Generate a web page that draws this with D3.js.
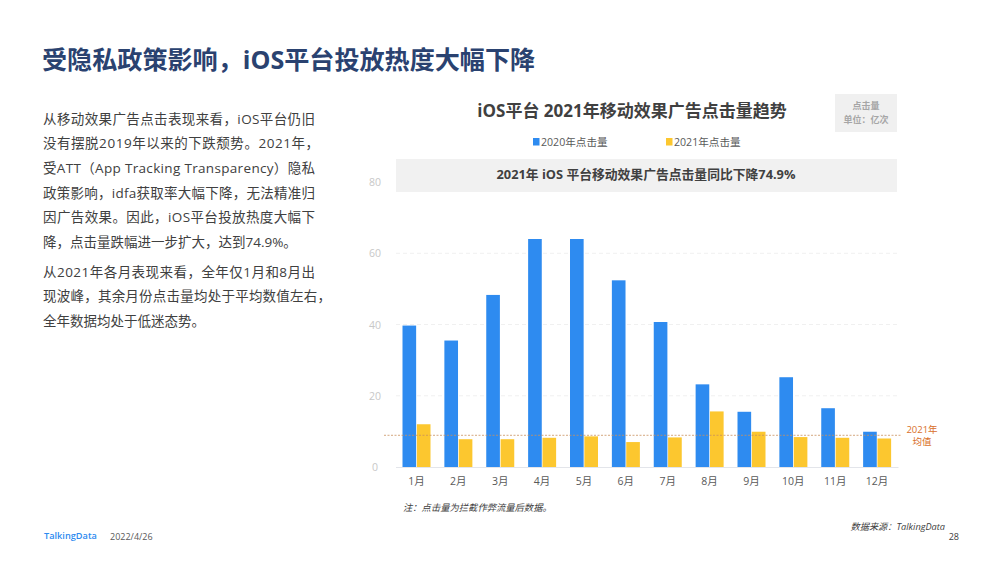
<!DOCTYPE html>
<html><head><meta charset="utf-8">
<script src="https://cdn.jsdelivr.net/npm/d3@7"></script>
<style>html,body{margin:0;padding:0;background:#fff}svg{display:block}text{font-family:"Open Sans","Noto Sans CJK SC",sans-serif}</style>
</head><body>
<svg id="c" width="1000" height="563"></svg>
<script>
const months=["1月","2月","3月","4月","5月","6月","7月","8月","9月","10月","11月","12月"];
const values2020=[39.7,35.5,48.3,64,64,52.4,40.7,23.2,15.5,25.2,16.5,9.9];
const values2021=[12,7.8,7.8,8.2,8.6,7,8.3,15.6,9.9,8.4,8.2,8];
const seriesNames=["2020年点击量","2021年点击量"];
const yTicks=[0,20,40,60,80];
const meanValue=8.9;
const bodyLines=[
 ["从移动效果广告点击表现来看，iOS平台仍旧",1],
 ["没有摆脱2019年以来的下跌颓势。2021年，",1],
 ["受ATT（App Tracking Transparency）隐私",1],
 ["政策影响，idfa获取率大幅下降，无法精准归",1],
 ["因广告效果。因此，iOS平台投放热度大幅下",1],
 ["降，点击量跌幅进一步扩大，达到74.9%。",0],
 ["从2021年各月表现来看，全年仅1月和8月出",1],
 ["现波峰，其余月份点击量均处于平均数值左右，",1],
 ["全年数据均处于低迷态势。",0]];
const bodyY=[124,148,173,198,222,247,277,301,326];
const svg=d3.select("#c");
const T=(x,y,s,size,fill,o={})=>svg.append("text").attr("x",x).attr("y",y).text(s)
  .attr("font-size",size).attr("fill",fill).attr("text-anchor",o.a||"start")
  .attr("font-weight",o.w||400).attr("font-style",o.i?"italic":"normal");

T(42,69,"受隐私政策影响，iOS平台投放热度大幅下降",25.1,"#2a4270",{w:700});
bodyLines.forEach((l,i)=>{
  const t=T(43,bodyY[i],l[0],13.5,"#404040");
  if(l[1]) t.attr("textLength",i===7?288:i===1?276:272).attr("lengthAdjust","spacing");
});

const x=d3.scaleBand().domain(months).range([395.5,898]).paddingInner(0);
const inner=d3.scaleBand().domain([0,1]).range([7,35]).paddingInner(0.05);
const y=d3.scaleLinear().domain([0,80]).range([467,182]);

T(632,117,"iOS平台 2021年移动效果广告点击量趋势",17,"#404040",{w:700,a:"middle"});
svg.append("rect").attr("x",835).attr("y",94).attr("width",62).attr("height",38).attr("fill","#f0f0f0");
T(866,109,"点击量",9,"#a6a6a6",{a:"middle",w:700});
T(866,123,"单位：亿次",9,"#a6a6a6",{a:"middle",w:700});

const colors=["#2e8bf0","#fcc72f"];
[[533,541],[666,674]].forEach((p,i)=>{
  svg.append("rect").attr("x",p[0]).attr("y",138).attr("width",6.5).attr("height",7.5).attr("fill",colors[i]);
  T(p[1],146,seriesNames[i],10.6,"#595959");
});

svg.append("rect").attr("x",396).attr("y",159).attr("width",501).attr("height",33).attr("fill","#f1f1f1");
T(646,179,"2021年 iOS 平台移动效果广告点击量同比下降74.9%",12.8,"#404040",{w:700,a:"middle"});

yTicks.forEach(v=>{
  T(375,y(v)+4,String(v),10.5,"#c8c8c8",{a:"middle"});
  if(v>0&&v<80) svg.append("line").attr("x1",396).attr("x2",897).attr("y1",y(v)).attr("y2",y(v))
    .attr("stroke","#f0f0f0").attr("stroke-width",1).attr("stroke-dasharray","4 3");
});

[values2020,values2021].forEach((vals,i)=>{
  svg.append("g").selectAll("rect").data(vals).join("rect")
    .attr("x",(d,j)=>x(months[j])+inner(i))
    .attr("width",inner.bandwidth())
    .attr("y",d=>y(d)).attr("height",d=>y(0)-y(d)).attr("fill",colors[i]);
});

const ax=d3.axisBottom(x).tickSize(0).tickPadding(11);
const g=svg.append("g").attr("transform",`translate(0,${y(0)})`).call(ax);
g.select(".domain").attr("stroke","#e3e5ea").attr("stroke-width",1);
g.selectAll("text").attr("font-size",10.5).attr("fill","#595959");

svg.append("line").attr("x1",384).attr("x2",901).attr("y1",y(meanValue)).attr("y2",y(meanValue))
  .attr("stroke","#c9905e").attr("stroke-width",.8).attr("stroke-dasharray","2 1.5");
T(922,433,"2021年",9.5,"#d9702a",{a:"middle"});
T(922,445,"均值",9.5,"#d9702a",{a:"middle"});

T(403,511,"注：点击量为拦截作弊流量后数据。",9.3,"#404040",{i:1});
T(945,530,"数据来源：TalkingData",9.2,"#404040",{i:1,a:"end"});
T(959,540,"28",9,"#404040",{a:"end"});
T(44,539,"TalkingData",9.2,"#2e8bf0",{w:600});
T(110,540,"2022/4/26",9,"#595959");
</script></body></html>
